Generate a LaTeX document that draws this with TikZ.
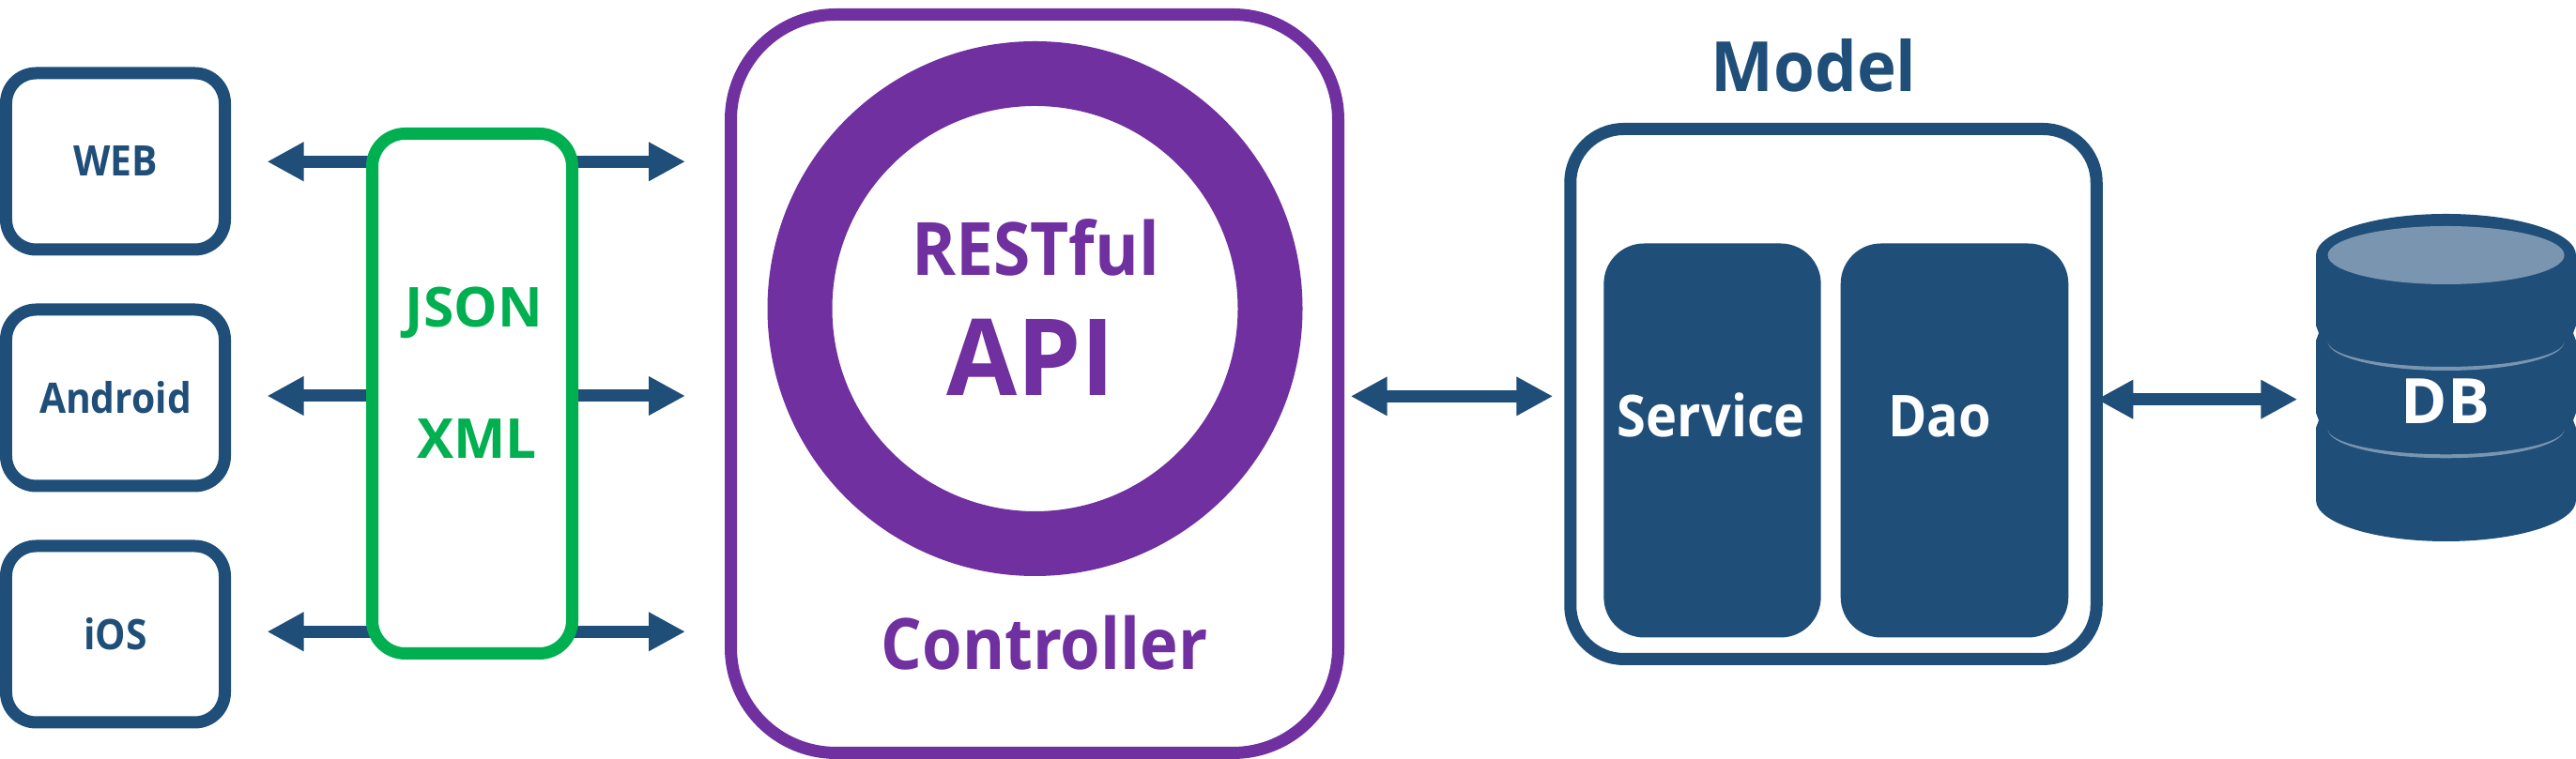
\documentclass[tikz,border=0pt]{standalone}
\usepackage{fontspec}
\setmainfont{Open Sans}
\newfontfamily\narrowfont{Open Sans}[FakeStretch=.91]
\newfontfamily\slimfont{Open Sans}[FakeStretch=.96]
\usetikzlibrary{arrows.meta,backgrounds}

\definecolor{mvcblue}{HTML}{1F4E79}
\definecolor{mvcpurple}{HTML}{7030A0}
\definecolor{mvcgreen}{HTML}{00B050}

\tikzset{
	client/.style={draw=mvcblue, line width=.13cm, fill=white, rounded corners=.32cm, inner sep=0pt, minimum width=2.33cm, minimum height=1.88cm, text=mvcblue, font=\fontsize{12.75}{15}\narrowfont\bfseries},
	layerbox/.style={line width=.13cm, fill=white, inner sep=0pt},
	inner box/.style={fill=mvcblue, rounded corners=.43cm, inner sep=0pt, minimum height=4.20cm},
	caption/.style={anchor=base, inner sep=0pt},
	link/.style={line width=.13cm, draw=mvcblue, >={Triangle[length=.39cm,width=.39cm]}}
}

\begin{document}
\begin{tikzpicture}
	\useasboundingbox (0,0) rectangle (27.44,8.09);
	% clients
	\node[client] (web) at (1.23,6.37) {WEB};
	\node[client] (android) at (1.23,3.85) {Android};
	\node[client] (ios) at (1.23,1.33) {iOS};
	% data format
	\node[layerbox, draw=mvcgreen, rounded corners=.35cm, minimum width=2.13cm, minimum height=5.54cm] (format) at (5.03,3.895) {};
	\node[caption, text=mvcgreen, font=\fontsize{16.7}{20}\selectfont\bfseries] (json) at (5.05,4.60) {JSON};
	\node[caption, text=mvcgreen, font=\fontsize{16.7}{20}\selectfont\bfseries] (xml) at (5.08,3.20) {XML};
	% controller
	\node[layerbox, draw=mvcpurple, rounded corners=1.12cm, minimum width=6.47cm, minimum height=7.87cm] (ctrl) at (11.02,4.00) {};
	\node[circle, draw=mvcpurple, line width=.69cm, inner sep=0pt, minimum size=5.01cm] (ring) at (11.025,4.80) {};
	\node[caption, text=mvcpurple, font=\fontsize{22.3}{26}\narrowfont\bfseries] (rest) at (11.03,5.15) {RESTful};
	\node[caption, text=mvcpurple, font=\fontsize{32.3}{38}\slimfont\bfseries] (api) at (10.98,3.874) {API};
	\node[caption, text=mvcpurple, font=\fontsize{21.5}{26}\narrowfont\bfseries] (ctrltext) at (11.125,.954) {Controller};
	% model
	\node[caption, text=mvcblue, font=\fontsize{21}{25}\slimfont\bfseries] (modeltext) at (19.32,7.117) {Model};
	\node[layerbox, draw=mvcblue, rounded corners=.57cm, minimum width=5.605cm, minimum height=5.65cm] (model) at (19.53,3.89) {};
	\node[inner box, minimum width=2.313cm] (service) at (18.24,3.395) {};
	\node[inner box, minimum width=2.426cm] (dao) at (20.82,3.395) {};
	\node[caption, text=white, font=\fontsize{17.5}{21}\narrowfont\bfseries] (servicetext) at (18.23,3.43) {Service};
	\node[caption, text=white, font=\fontsize{17.5}{21}\narrowfont\bfseries] (daotext) at (20.665,3.43) {Dao};
	% database
	\fill[mvcblue] (24.67,5.37) arc[start angle=180,end angle=0,x radius=1.385,y radius=.44]
		-- (27.44,4.62) -- (27.41,4.54) -- (27.44,4.46) -- (27.44,3.69) -- (27.41,3.61) -- (27.44,3.53)
		-- (27.44,2.76) arc[start angle=0,end angle=-180,x radius=1.385,y radius=.44]
		-- (24.67,3.53) -- (24.70,3.61) -- (24.67,3.69) -- (24.67,4.46) -- (24.70,4.54) -- (24.67,4.62) -- cycle;
	\fill[mvcblue!60!white] (26.056,5.37) ellipse[x radius=1.26,y radius=.31];
	\fill[mvcblue!60!white] (24.796,4.45) arc[start angle=180,end angle=360,x radius=1.26,y radius=.31] arc[start angle=0,end angle=-180,x radius=1.26,y radius=.27] -- cycle;
	\fill[mvcblue!60!white] (24.796,3.517) arc[start angle=180,end angle=360,x radius=1.26,y radius=.31] arc[start angle=0,end angle=-180,x radius=1.26,y radius=.27] -- cycle;
	\node[inner sep=0pt, minimum width=2.78cm, text=white, font=\fontsize{19}{23}\selectfont\bfseries] (db) at (26.05,3.81) {DB};
	% connectors
	\coordinate (rowa) at (5.03,6.367);
	\coordinate (rowb) at (5.03,3.87);
	\coordinate (rowc) at (5.03,1.357);
	\coordinate (rowd) at (15.46,3.866);
	\coordinate (rowe) at (23.40,3.833);
	\begin{scope}[on background layer]
		\draw[link,<-,shorten <=.385cm] (web.east |- rowa) -- (rowa);
		\draw[link,<-,shorten <=.385cm] (android.east |- rowb) -- (rowb);
		\draw[link,<-,shorten <=.385cm] (ios.east |- rowc) -- (rowc);
		\draw[link,->,shorten >=.42cm] (rowa) -- (ctrl.west |- rowa);
		\draw[link,->,shorten >=.42cm] (rowb) -- (ctrl.west |- rowb);
		\draw[link,->,shorten >=.42cm] (rowc) -- (ctrl.west |- rowc);
		\draw[link,<->,shorten <=.067cm,shorten >=.12cm] (ctrl.east |- rowd) -- (model.west |- rowd);
		\draw[link,<->,shorten <=-.065cm,shorten >=.18cm] (model.east |- rowe) -- (db.west |- rowe);
	\end{scope}
\end{tikzpicture}
\end{document}
